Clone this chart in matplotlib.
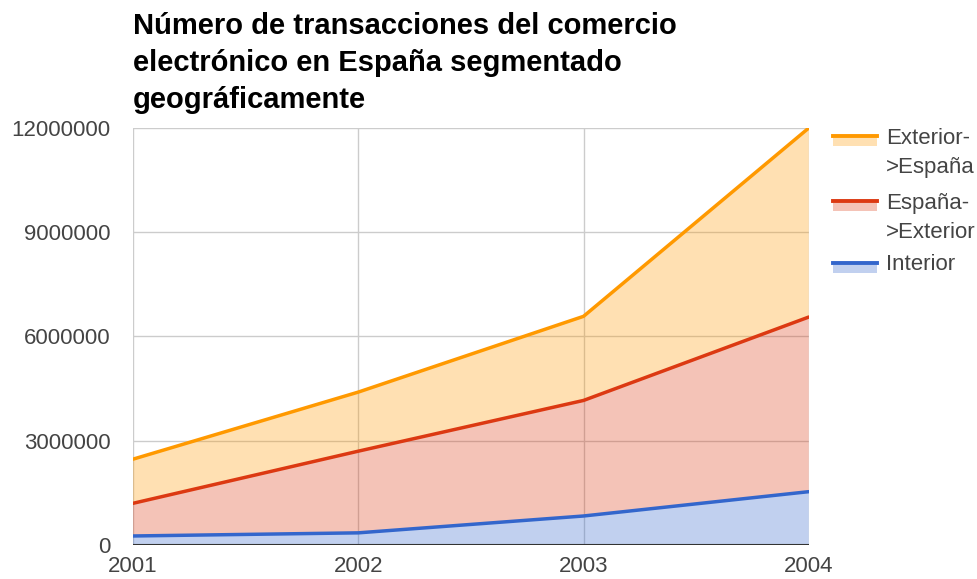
import numpy as np
import matplotlib
matplotlib.use("Agg")
import matplotlib.pyplot as plt
from matplotlib.lines import Line2D
from matplotlib.patches import Rectangle

plt.rcParams['font.family'] = ['Liberation Sans', 'DejaVu Sans']

years = [2001, 2002, 2003, 2004]
interior = [260000, 350000, 835000, 1535000]
esp_ext = [940000, 2350000, 3325000, 5025000]
ext_esp = [1270000, 1700000, 2420000, 5440000]

series = [interior, esp_ext, ext_esp]
labels = ['Interior', 'España-\n>Exterior', 'Exterior-\n>España']
colors = ['#3366cc', '#dc3912', '#ff9900']

fig = plt.figure(figsize=(9.78, 5.79), dpi=100)
ax = fig.add_axes([0.136, 0.0587, 0.691, 0.7203])

ax.stackplot(years, *series, colors=colors, alpha=0.3, linewidth=0, zorder=2)
tops = np.cumsum(series, axis=0)
for top, c in zip(tops, colors):
    ax.plot(years, top, color=c, lw=2.5, zorder=3, solid_capstyle='round')

ax.set_xlim(2001, 2004)
ax.set_ylim(0, 12000000)
ax.set_xticks(years)
ax.set_xticklabels([str(y) for y in years])
ax.set_yticks([0, 3000000, 6000000, 9000000, 12000000])
ax.set_yticklabels(['0', '3000000', '6000000', '9000000', '12000000'])
ax.grid(True, color='#cccccc', lw=1, zorder=1)
ax.set_axisbelow(True)
for s in ax.spines.values():
    s.set_visible(False)
ax.axhline(0, color='#333333', lw=1.5, zorder=4)
ax.tick_params(length=0, labelsize=16, labelcolor='#444444')
ax.tick_params(axis='y', pad=16)
ax.tick_params(axis='x', pad=8)

fig.text(0.136, 0.979, 'Número de transacciones del comercio\nelectrónico en España segmentado\ngeográficamente',
         fontsize=21, fontweight='bold', color='black', ha='left', va='top', linespacing=1.4)

# legend (positions in pixels)
W, H = 978, 579
entries = [(colors[2], labels[2], 138), (colors[1], labels[1], 203), (colors[0], labels[0], 265)]
for c, lab, y in entries:
    yl = y - 2
    fig.add_artist(Rectangle((833 / W, 1 - (yl + 10) / H), 44 / W, 8 / H, transform=fig.transFigure,
                             facecolor=c, alpha=0.3, lw=0))
    fig.add_artist(Line2D([833 / W, 877 / W], [1 - yl / H] * 2, transform=fig.transFigure,
                          color=c, lw=2.8))
    fig.text(886 / W, 1 - y / H, lab.split('\n')[0], fontsize=16, color='#444444', ha='left', va='center')
    if '\n' in lab:
        fig.text(886 / W, 1 - (y + 30) / H, lab.split('\n')[1], fontsize=16, color='#444444',
                 ha='left', va='center')

fig.savefig('out.png', dpi=100)
